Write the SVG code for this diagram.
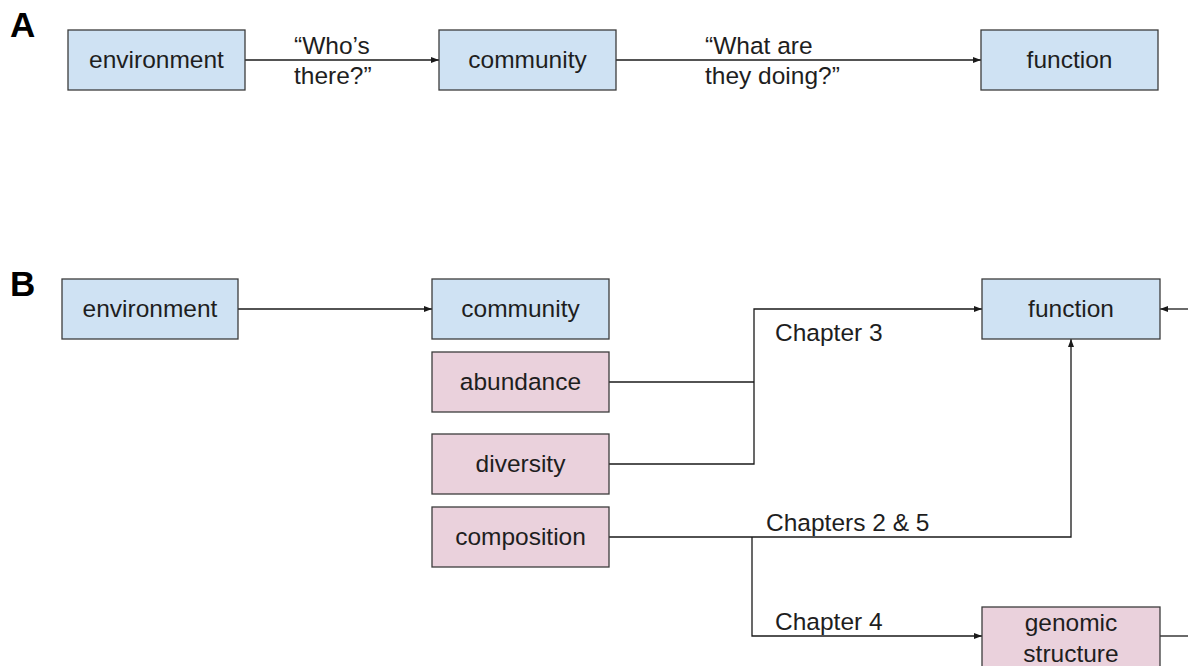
<svg xmlns="http://www.w3.org/2000/svg" width="1188" height="666" viewBox="0 0 1188 666">
<style>
.box{stroke:#3c3c3c;stroke-width:1.3}
.blue{fill:#cfe2f3}
.pink{fill:#ead1dc}
text{font-family:"Liberation Sans",Arial,sans-serif;font-size:24.5px;fill:#1e1e1e}
.c{text-anchor:middle}
.lbl{font-weight:bold;font-size:35px;fill:#000}
.ln{fill:none;stroke:#1a1a1a;stroke-width:1.3}
</style>
<defs>
<marker id="ah" viewBox="0 0 8 6" refX="8" refY="3" markerWidth="8" markerHeight="6" markerUnits="userSpaceOnUse" orient="auto">
<path d="M0,0 L8,3 L0,6 z" fill="#1a1a1a"/>
</marker>
</defs>
<rect width="1188" height="666" fill="#fff"/>
<text class="lbl" x="10" y="37">A</text>
<text class="lbl" x="10" y="296">B</text>
<g id="connectors">
<path class="ln" d="M245,60 H439" marker-end="url(#ah)"/>
<path class="ln" d="M616,60 H981" marker-end="url(#ah)"/>
<path class="ln" d="M238,309 H432" marker-end="url(#ah)"/>
<path class="ln" d="M609,382 H754"/>
<path class="ln" d="M609,464 H754 V309 H982" marker-end="url(#ah)"/>
<path class="ln" d="M609,537 H1071 V339" marker-end="url(#ah)"/>
<path class="ln" d="M752,537 V636 H982" marker-end="url(#ah)"/>
<path class="ln" d="M1188,309 H1160" marker-end="url(#ah)"/>
<path class="ln" d="M1160,636 H1188"/>
<text x="294" y="54">“Who’s</text>
<text x="294" y="84">there?”</text>
<text x="705" y="54">“What are</text>
<text x="705" y="84">they doing?”</text>
<text x="775" y="341">Chapter 3</text>
<text x="766" y="531">Chapters 2 &amp; 5</text>
<text x="775" y="630">Chapter 4</text>
</g>
<g id="a-environment"><rect class="box blue" x="68" y="30" width="177" height="60"/><text class="c" x="156.5" y="68">environment</text></g>
<g id="a-community"><rect class="box blue" x="439" y="30" width="177" height="60"/><text class="c" x="527.5" y="68">community</text></g>
<g id="a-function"><rect class="box blue" x="981" y="30" width="177" height="60"/><text class="c" x="1069.5" y="68">function</text></g>
<g id="b-environment"><rect class="box blue" x="62" y="279" width="176" height="60"/><text class="c" x="150" y="317">environment</text></g>
<g id="b-community"><rect class="box blue" x="432" y="279" width="177" height="60"/><text class="c" x="520.5" y="317">community</text></g>
<g id="b-abundance"><rect class="box pink" x="432" y="352" width="177" height="60"/><text class="c" x="520.5" y="390">abundance</text></g>
<g id="b-diversity"><rect class="box pink" x="432" y="434" width="177" height="60"/><text class="c" x="520.5" y="472">diversity</text></g>
<g id="b-composition"><rect class="box pink" x="432" y="507" width="177" height="60"/><text class="c" x="520.5" y="545">composition</text></g>
<g id="b-function"><rect class="box blue" x="982" y="279" width="178" height="60"/><text class="c" x="1071" y="317">function</text></g>
<g id="b-genomic"><rect class="box pink" x="982" y="607" width="178" height="70"/><text class="c" x="1071" y="631">genomic</text><text class="c" x="1071" y="662">structure</text></g>
</svg>
